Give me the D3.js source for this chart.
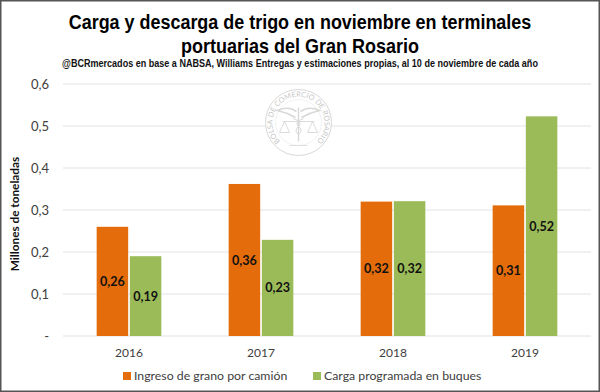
<!DOCTYPE html>
<html>
<head>
<meta charset="utf-8">
<script src="https://cdn.jsdelivr.net/npm/d3@7"></script>
<style>
    html, body { margin: 0; padding: 0; background: #fff; }
    svg { display: block; }
    text { font-family: Lato, "Open Sans", sans-serif; }
    .title { font-family: "Liberation Sans", sans-serif; font-weight: bold; }
</style>
</head>
<body>
<div id="chart"></div>
<script>
const years = ["2016", "2017", "2018", "2019"];
const seriesNames = ["Ingreso de grano por camión", "Carga programada en buques"];
const camion = [0.26, 0.362, 0.32, 0.311];
const buques = [0.19, 0.229, 0.321, 0.523];
const camionLabels = ["0,26", "0,36", "0,32", "0,31"];
const buquesLabels = ["0,19", "0,23", "0,32", "0,52"];
const yTicks = [0, 0.1, 0.2, 0.3, 0.4, 0.5, 0.6];
const yTickLabels = ["-", "0,1", "0,2", "0,3", "0,4", "0,5", "0,6"];
const titleLines = ["Carga y descarga de trigo en noviembre en terminales", "portuarias del Gran Rosario"];
const titleWidths = [463, 238];
const subtitle = "@BCRmercados en base a NABSA, Williams Entregas y estimaciones propias, al 10 de noviembre de cada año";

const width = 600;
const height = 392;
const marginLeft = 63;
const marginRight = 9;
const marginTop = 84;
const marginBottom = 56;
const colors = ["#e46c0a", "#9bbb59"];

const svg = d3.select("#chart").append("svg")
    .attr("width", width)
    .attr("height", height)
    .attr("viewBox", [0, 0, width, height]);

const x = d3.scaleBand()
    .domain(years)
    .range([marginLeft, width - marginRight])
    .paddingInner(0.51)
    .paddingOuter(0.255);
const xSeries = d3.scaleBand()
    .domain(d3.range(2))
    .range([0, x.bandwidth()])
    .paddingInner(0.05);
const y = d3.scaleLinear()
    .domain([0, 0.6])
    .range([height - marginBottom, marginTop]);

// squeeze a centred text to a target width, the title font is condensed in the original
function fitText(sel, cx, cy, targetWidth) {
    sel.attr("transform", function(d, i) {
        const w = typeof targetWidth === "function" ? targetWidth(d, i) : targetWidth;
        const yPos = typeof cy === "function" ? cy(d, i) : cy;
        return `translate(${cx},${yPos}) scale(${w / this.getComputedTextLength()},1)`;
    });
}

// gridlines
svg.append("g")
    .attr("stroke", "#e2e2e2")
    .attr("stroke-width", 1)
    .selectAll("line")
    .data(yTicks)
    .join("line")
    .attr("x1", marginLeft)
    .attr("x2", width - marginRight)
    .attr("y1", d => y(d))
    .attr("y2", d => y(d));

// watermark seal
const seal = svg.append("g")
    .attr("transform", "translate(298.5,122.5)")
    .attr("fill", "none")
    .attr("stroke", "#d8d8d8");
seal.append("circle").attr("r", 33).attr("fill", "#fff").attr("stroke-width", 1);
seal.append("circle").attr("r", 23).attr("stroke-width", 0.6).attr("stroke", "#e8e8e8");
seal.append("path")
    .attr("id", "sealArc")
    .attr("stroke", "none")
    .attr("d", "M-17,20 A26,26 0 1 1 17,20");
seal.append("text")
    .attr("fill", "#c8c8c8")
    .attr("stroke", "none")
    .attr("font-size", 7.4)
    .append("textPath")
    .attr("href", "#sealArc")
    .attr("startOffset", "50%")
    .attr("text-anchor", "middle")
    .text("BOLSA DE COMERCIO DE ROSARIO");
// caduceus and scales
seal.append("path").attr("stroke-width", 1.4).attr("d", "M0,-15 V19");
seal.append("path").attr("stroke-width", 1).attr("d", "M-5,-4 Q5,0 0,4 Q-5,8 0,12 M5,-4 Q-5,0 0,4 Q5,8 0,12");
seal.append("path").attr("stroke-width", 1.6).attr("d", "M-2,-11 Q-10,-17 -21,-12 Q-12,-10 -3,-5 M2,-11 Q10,-17 21,-12 Q12,-10 3,-5");
seal.append("path").attr("stroke-width", 0.9).attr("d", "M-16,-1 H16 M-14,-1 L-19,10 H-9 Z M14,-1 L9,10 H19 Z");
seal.append("path").attr("stroke-width", 0.8).attr("d", "M-9,23 H9");

// bars
const groups = svg.append("g")
    .selectAll("g")
    .data(years)
    .join("g")
    .attr("transform", d => `translate(${x(d)},0)`);

[camion, buques].forEach((values, s) => {
    groups.append("rect")
        .attr("x", xSeries(s))
        .attr("y", (d, i) => y(values[i]))
        .attr("width", xSeries.bandwidth())
        .attr("height", (d, i) => y(0) - y(values[i]))
        .attr("fill", colors[s]);
});

// data labels sit at the middle of each bar
[[camion, camionLabels], [buques, buquesLabels]].forEach(([values, labels], s) => {
    groups.append("text")
        .attr("x", xSeries(s) + xSeries.bandwidth() / 2)
        .attr("y", (d, i) => y(values[i] / 2))
        .attr("dy", "0.36em")
        .attr("text-anchor", "middle")
        .attr("font-size", 12.6)
        .attr("font-weight", "bold")
        .attr("fill", "#111")
        .text((d, i) => labels[i]);
});

// axes
svg.append("g")
    .attr("transform", `translate(0,${height - marginBottom})`)
    .call(d3.axisBottom(x).tickSize(0).tickPadding(12))
    .call(g => g.select(".domain").remove())
    .call(g => g.selectAll("text")
        .attr("font-size", 12)
        .attr("font-family", "Lato")
        .attr("fill", "#404040"));

svg.append("g")
    .attr("transform", `translate(${marginLeft},0)`)
    .call(d3.axisLeft(y).tickValues(yTicks).tickFormat((d, i) => yTickLabels[i]).tickSize(0).tickPadding(14))
    .call(g => g.select(".domain").remove())
    .call(g => g.selectAll("text")
        .attr("font-size", 13)
        .attr("font-family", "Lato")
        .attr("fill", "#404040"));

svg.append("text")
    .attr("transform", "translate(19,214) rotate(-90)")
    .attr("text-anchor", "middle")
    .attr("font-size", 11.8)
    .attr("font-weight", "bold")
    .attr("fill", "#111")
    .text("Millones de toneladas");

// title block
svg.append("g")
    .selectAll("text")
    .data(titleLines)
    .join("text")
    .attr("class", "title")
    .attr("text-anchor", "middle")
    .attr("font-size", 21)
    .attr("fill", "#000")
    .text(d => d)
    .call(fitText, 300, (d, i) => 28.5 + i * 24.5, (d, i) => titleWidths[i]);

svg.append("text")
    .attr("class", "title")
    .attr("text-anchor", "middle")
    .attr("font-size", 10.6)
    .attr("fill", "#111")
    .text(subtitle)
    .call(fitText, 300, 67, 476);

// legend
const legendX = [123, 313];
const legend = svg.append("g")
    .selectAll("g")
    .data(seriesNames)
    .join("g")
    .attr("transform", (d, i) => `translate(${legendX[i]},376)`);
legend.append("rect")
    .attr("y", -4)
    .attr("width", 8)
    .attr("height", 8)
    .attr("fill", (d, i) => colors[i]);
legend.append("text")
    .attr("x", 11)
    .attr("y", 4)
    .attr("font-size", 12.3)
    .attr("fill", "#404040")
    .text(d => d);

// outer frame
svg.append("rect")
    .attr("x", 0.75)
    .attr("y", 0.75)
    .attr("width", width - 1.5)
    .attr("height", height - 1.5)
    .attr("fill", "none")
    .attr("stroke", "#555")
    .attr("stroke-width", 1.5);
</script>
</body>
</html>
